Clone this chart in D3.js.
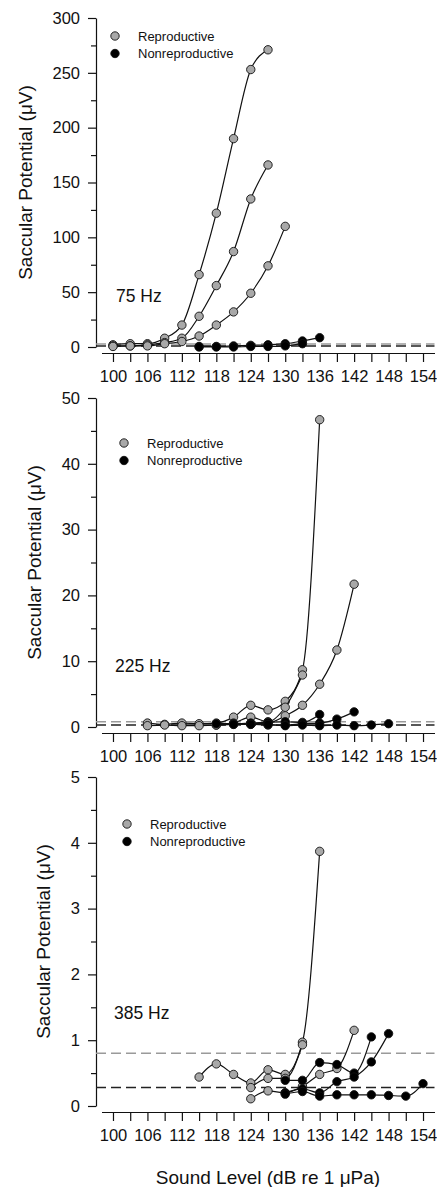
<!DOCTYPE html>
<html>
<head>
<meta charset="utf-8">
<script src="https://cdn.jsdelivr.net/npm/d3@7"></script>
<style>
  body { margin: 0; background: #fff; }
  text { font-family: Arial, "Liberation Sans", sans-serif; fill: #111; }
</style>
</head>
<body>
<svg id="chart" width="437" height="1187"></svg>
<script>
// Sound levels on the x axis (dB re 1 uPa)
const xTicks = d3.range(100, 155, 3);
const xLabels = [100, 106, 112, 118, 124, 130, 136, 142, 148, 154];

// 75 Hz
const rep75 = [
    { db: [100, 103, 106, 109, 112, 115, 118, 121, 124, 127], uv: [2, 3, 3, 8, 20, 66, 122, 190, 253, 271] },
    { db: [100, 103, 106, 109, 112, 115, 118, 121, 124, 127], uv: [1, 1, 2, 4, 8, 28, 56, 87, 135, 166] },
    { db: [100, 103, 106, 109, 112, 115, 118, 121, 124, 127, 130], uv: [0.5, 1, 1, 3, 5, 10, 20, 32, 49, 74, 110] }
];
const non75 = [
    { db: [115, 118, 121, 124, 127, 130, 133, 136], uv: [0.5, 0.5, 1, 1.5, 2, 3, 5.5, 8.5] },
    { db: [115, 118, 121, 124, 127, 130, 133], uv: [0, 0, 0, 0.5, 0.5, 1, 3] }
];

// 225 Hz
const rep225 = [
    { db: [106, 109, 112, 115, 118, 121, 124, 127, 130, 133, 136], uv: [0.6, 0.4, 0.6, 0.5, 0.6, 1.5, 3.3, 2.6, 3.9, 8.7, 46.7] },
    { db: [106, 109, 112, 115, 118, 121, 124, 127, 130, 133], uv: [0.2, 0.3, 0.2, 0.2, 0.3, 0.6, 1.5, 0.8, 3.0, 7.9] },
    { db: [118, 121, 124, 127, 130, 133, 136, 139, 142], uv: [0.3, 0.4, 0.5, 0.6, 1.7, 3.3, 6.5, 11.7, 21.7] }
];
const non225 = [
    { db: [118, 121, 124, 127, 130, 133, 136], uv: [0.5, 0.5, 0.6, 0.7, 0.8, 0.7, 1.9] },
    { db: [121, 124, 127, 130, 133, 136, 139, 142], uv: [0.4, 0.4, 0.3, 0.3, 0.5, 0.6, 1.2, 2.3] },
    { db: [124, 127, 130, 133, 136, 139, 142, 145, 148], uv: [0.4, 0.4, 0.2, 0.3, 0.2, 0.3, 0.2, 0.3, 0.5] }
];

// 385 Hz
const rep385 = [
    { db: [115, 118, 121, 124, 127, 130, 133, 136], uv: [0.44, 0.64, 0.48, 0.35, 0.55, 0.48, 0.97, 3.87] },
    { db: [124, 127, 130, 133], uv: [0.28, 0.42, 0.42, 0.93] },
    { db: [124, 127, 130, 133, 136, 139, 142], uv: [0.11, 0.23, 0.2, 0.3, 0.48, 0.57, 1.15] }
];
const non385 = [
    { db: [130, 133, 136, 139, 142, 145], uv: [0.39, 0.39, 0.66, 0.63, 0.5, 1.05] },
    { db: [130, 133, 136, 139, 142, 145, 148], uv: [0.2, 0.26, 0.2, 0.37, 0.44, 0.67, 1.1] },
    { db: [130, 133, 136, 139, 142, 145, 148, 151, 154], uv: [0.18, 0.22, 0.15, 0.17, 0.17, 0.17, 0.16, 0.15, 0.34] }
];

// noise-floor thresholds (reproductive = grey, nonreproductive = black)
const repFloor = [2.7, 0.8, 0.8];
const nonFloor = [0.9, 0.3, 0.28];

const freqLabels = ["75 Hz", "225 Hz", "385 Hz"];
const yMax = [300, 50, 5];
const yMajor = [50, 10, 1];
const legendLabels = ["Reproductive", "Nonreproductive"];

const panels = [
    { top: 18, rep: rep75, non: non75, legend: [115, 36], label: [116, 302] },
    { top: 398, rep: rep225, non: non225, legend: [124, 443], label: [115, 672] },
    { top: 777, rep: rep385, non: non385, legend: [127, 824], label: [114, 1019] }
];

const svg = d3.select("#chart");
const plotH = 329;
const axisX = 96;
const grey = "#a8a8a8";

const x = d3.scaleLinear().domain([98, 156]).range([101.5, 434.5]);

panels.forEach((p, i) => {
    const y = d3.scaleLinear().domain([0, yMax[i]]).range([p.top + plotH, p.top]);
    const g = svg.append("g");

    // y axis (major + minor ticks)
    const yAxis = g.append("g")
        .attr("transform", "translate(" + axisX + ",0)")
        .call(d3.axisLeft(y)
            .tickValues(d3.range(0, yMax[i] + yMajor[i] / 2, yMajor[i]))
            .tickFormat(d3.format("d"))
            .tickSize(8).tickSizeOuter(0).tickPadding(8));
    g.append("g")
        .attr("transform", "translate(" + axisX + ",0)")
        .call(d3.axisLeft(y)
            .tickValues(d3.range(yMajor[i] / 2, yMax[i], yMajor[i]))
            .tickSize(5).tickSizeOuter(0).tickFormat(""))
        .select(".domain").remove();
    yAxis.selectAll("text").style("font-size", "16.5px").attr("fill", "#111");

    // x axis, detached a few px below
    const xAxisY = p.top + plotH + 6;
    const xAxis = g.append("g")
        .attr("transform", "translate(0," + xAxisY + ")")
        .call(d3.axisBottom(x)
            .tickValues(xTicks)
            .tickFormat(d => xLabels.includes(d) ? d : "")
            .tickSize(9).tickSizeOuter(0).tickPadding(8));
    xAxis.selectAll("text").style("font-size", "16.5px").attr("fill", "#111");
    g.selectAll(".domain, .tick line").attr("stroke", "#111").attr("stroke-width", 1.2);

    // y title, placed left of the widest tick label
    const labX = d3.min(yAxis.selectAll("text").nodes(), n => n.getBBox().x + axisX);
    const cy = p.top + plotH / 2;
    g.append("text")
        .attr("transform", "translate(" + (labX - 27) + "," + cy + ") rotate(-90)")
        .attr("text-anchor", "middle")
        .attr("dy", "0.35em")
        .style("font-size", "19px")
        .text("Saccular Potential (\u03bcV)");

    // threshold lines
    [[repFloor[i], "#9a9a9a"], [nonFloor[i], "#222"]].forEach(([v, c]) => {
        g.append("line")
            .attr("x1", axisX).attr("x2", x.range()[1])
            .attr("y1", y(v)).attr("y2", y(v))
            .attr("stroke", c).attr("stroke-width", 1.5)
            .attr("stroke-dasharray", "10,5");
    });

    const line = d3.line()
        .x(d => x(d[0])).y(d => y(d[1]))
        .curve(d3.curveMonotoneX);

    const drawSeries = (series, fill) => {
        series.forEach(s => {
            const pts = s.db.map((d, k) => [d, s.uv[k]]);
            g.append("path")
                .datum(pts)
                .attr("fill", "none")
                .attr("stroke", "#111")
                .attr("stroke-width", 1.2)
                .attr("d", line);
            g.selectAll(null)
                .data(pts)
                .enter().append("circle")
                .attr("cx", d => x(d[0]))
                .attr("cy", d => y(d[1]))
                .attr("r", 4.2)
                .attr("fill", fill)
                .attr("stroke", "#111")
                .attr("stroke-width", 0.9);
        });
    };
    drawSeries(p.rep, grey);
    drawSeries(p.non, "#000");

    // legend
    legendLabels.forEach((t, k) => {
        const ly = p.legend[1] + k * 17.5;
        g.append("circle")
            .attr("cx", p.legend[0]).attr("cy", ly).attr("r", 4.2)
            .attr("fill", k === 0 ? grey : "#000")
            .attr("stroke", "#111").attr("stroke-width", 0.9);
        g.append("text")
            .attr("x", p.legend[0] + 23).attr("y", ly)
            .attr("dy", "0.35em")
            .style("font-size", "13px")
            .text(t);
    });

    // frequency label
    g.append("text")
        .attr("x", p.label[0]).attr("y", p.label[1])
        .style("font-size", "17.5px")
        .text(freqLabels[i]);
});

// x title
svg.append("text")
    .attr("x", (x(100) + x(154)) / 2)
    .attr("y", 1184)
    .attr("text-anchor", "middle")
    .style("font-size", "19px")
    .text("Sound Level (dB re 1 \u03bcPa)");
</script>
</body>
</html>
